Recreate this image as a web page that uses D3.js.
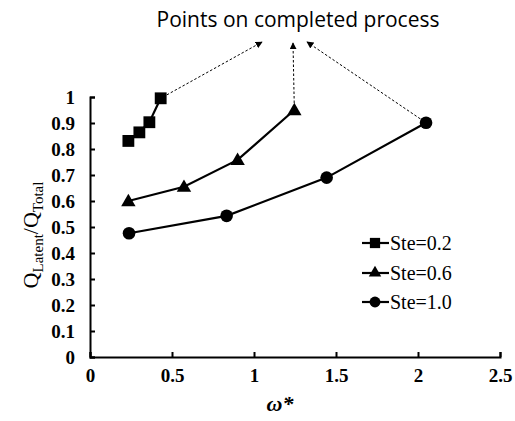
<!DOCTYPE html>
<html>
<head>
<meta charset="utf-8">
<script src="https://cdn.jsdelivr.net/npm/d3@7"></script>
<style>
  html, body { margin: 0; padding: 0; background: #fff; }
  svg { display: block; }
</style>
</head>
<body>
<svg id="chart" width="515" height="421"></svg>
<script>
// Latent share of total heat versus dimensionless omega, per Stefan number
const seriesNames = ["Ste=0.2", "Ste=0.6", "Ste=1.0"];
const seriesShapes = ["square", "triangle", "circle"];
const omegaSte02 = [0.234, 0.301, 0.362, 0.431];
const ratioSte02 = [0.831, 0.864, 0.903, 0.995];
const omegaSte06 = [0.234, 0.573, 0.900, 1.246];
const ratioSte06 = [0.600, 0.655, 0.758, 0.950];
const omegaSte10 = [0.238, 0.833, 1.443, 2.049];
const ratioSte10 = [0.476, 0.543, 0.690, 0.901];
const xTicks = [0, 0.5, 1, 1.5, 2, 2.5];
const yTicks = [0, 0.1, 0.2, 0.3, 0.4, 0.5, 0.6, 0.7, 0.8, 0.9, 1];
const annotationText = "Points on completed process";

const series = [
  { name: seriesNames[0], shape: seriesShapes[0], xs: omegaSte02, ys: ratioSte02 },
  { name: seriesNames[1], shape: seriesShapes[1], xs: omegaSte06, ys: ratioSte06 },
  { name: seriesNames[2], shape: seriesShapes[2], xs: omegaSte10, ys: ratioSte10 }
].map(s => ({ ...s, pts: s.xs.map((x, i) => ({ x, y: s.ys[i] })) }));

const svg = d3.select("#chart");
const x = d3.scaleLinear().domain([0, 2.5]).range([90, 500]);
const y = d3.scaleLinear().domain([0, 1]).range([357, 97]);

const serif = "'Liberation Serif', 'Times New Roman', serif";

// arrowhead marker
svg.append("defs").append("marker")
  .attr("id", "ah").attr("viewBox", "0 0 10 10")
  .attr("refX", 9).attr("refY", 5)
  .attr("markerWidth", 7).attr("markerHeight", 7)
  .attr("markerUnits", "userSpaceOnUse")
  .attr("orient", "auto")
  .append("path").attr("d", "M0,0 L10,5 L0,10 Z").attr("fill", "#000");

// axes with inward ticks
const xAxis = d3.axisBottom(x).tickValues(xTicks).tickSizeInner(-5).tickSizeOuter(-5)
  .tickPadding(12).tickFormat(d3.format("~g"));
const yAxis = d3.axisLeft(y).tickValues(yTicks).tickSizeInner(-5).tickSizeOuter(-5)
  .tickPadding(15).tickFormat(d3.format("~g"));

const gx = svg.append("g").attr("transform", `translate(0,${y(0)})`).call(xAxis);
const gy = svg.append("g").attr("transform", `translate(${x(0)},0)`).call(yAxis);
[gx, gy].forEach(g => {
  g.select(".domain").attr("stroke", "#000").attr("stroke-width", 2);
  g.selectAll(".tick line").attr("stroke", "#000").attr("stroke-width", 2);
  g.selectAll(".tick text").attr("fill", "#000")
    .attr("font-family", serif).attr("font-weight", "bold").attr("font-size", 19);
});
gx.selectAll(".tick text").attr("dy", "0.71em");

// axis titles
svg.append("text")
  .attr("x", 280).attr("y", 411)
  .attr("text-anchor", "middle")
  .attr("font-family", serif).attr("font-weight", "bold").attr("font-style", "italic")
  .attr("font-size", 22)
  .text("ω*");

const yl = svg.append("text")
  .attr("transform", "translate(38,235) rotate(-90)")
  .attr("text-anchor", "middle")
  .attr("font-family", serif).attr("font-size", 22);
yl.append("tspan").text("Q");
yl.append("tspan").attr("font-size", 15).attr("dy", 5).text("Latent");
yl.append("tspan").attr("dy", -5).text("/Q");
yl.append("tspan").attr("font-size", 15).attr("dy", 5).text("Total");

// symbols
const symType = { square: d3.symbolSquare, triangle: d3.symbolTriangle, circle: d3.symbolCircle };
const symSize = { square: 140, triangle: 90, circle: 125 };

const line = d3.line().x(d => x(d.x)).y(d => y(d.y));
series.forEach(s => {
  svg.append("path").datum(s.pts)
    .attr("d", line).attr("fill", "none").attr("stroke", "#000").attr("stroke-width", 2.2);
  svg.selectAll(null).data(s.pts).enter().append("path")
    .attr("transform", d => `translate(${x(d.x)},${y(d.y) + (s.shape === "triangle" ? 1 : 0)})`)
    .attr("d", d3.symbol().type(symType[s.shape]).size(symSize[s.shape]))
    .attr("fill", "#000");
});

// annotation pointing at final points
svg.append("text")
  .attr("x", 298).attr("y", 27).attr("text-anchor", "middle")
  .attr("font-family", "'Open Sans', 'Noto Sans', sans-serif").attr("font-size", 21)
  .attr("fill", "#000")
  .text(annotationText);

const targets = [[262, 42], [293, 43], [307, 42]];
series.forEach((s, i) => {
  const last = s.pts[s.pts.length - 1];
  const sx = x(last.x), sy = y(last.y);
  const dx = targets[i][0] - sx, dy = targets[i][1] - sy;
  const len = Math.hypot(dx, dy);
  const off = 7;
  svg.append("line")
    .attr("x1", sx + dx / len * off).attr("y1", sy + dy / len * off)
    .attr("x2", targets[i][0]).attr("y2", targets[i][1])
    .attr("stroke", "#000").attr("stroke-width", 1)
    .attr("stroke-dasharray", "2.5,2")
    .attr("marker-end", "url(#ah)");
});

// legend
const legY = [243, 273, 302];
series.forEach((s, i) => {
  const g = svg.append("g").attr("transform", `translate(0,${legY[i]})`);
  g.append("line").attr("x1", 362).attr("x2", 389).attr("y1", 0).attr("y2", 0)
    .attr("stroke", "#000").attr("stroke-width", 2.2);
  g.append("path").attr("transform", "translate(375,0)")
    .attr("d", d3.symbol().type(symType[s.shape]).size(symSize[s.shape] * 0.75))
    .attr("fill", "#000");
  g.append("text").attr("x", 390).attr("y", 0).attr("dy", "0.35em")
    .attr("font-family", serif).attr("font-size", 20).text(s.name);
});
</script>
</body>
</html>
